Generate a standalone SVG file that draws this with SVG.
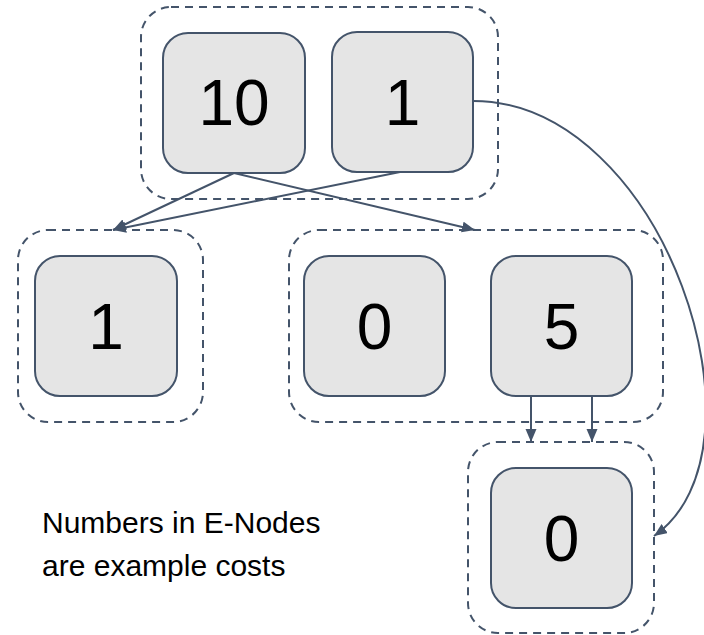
<svg xmlns="http://www.w3.org/2000/svg" width="704" height="635" viewBox="0 0 704 635">
  <style>
    .cls { fill: none; stroke: #44546a; stroke-width: 2; stroke-dasharray: 8 6; }
    .node rect { fill: #e5e5e5; stroke: #44546a; stroke-width: 2; }
    .node text { font-family: "Liberation Sans", Arial, sans-serif; font-size: 64px; fill: #000; text-anchor: middle; }
    .edge { fill: none; stroke: #44546a; stroke-width: 2; marker-end: url(#arrow); }
    .note { font-family: "Liberation Sans", Arial, sans-serif; font-size: 30px; fill: #000; }
  </style>
  <defs>
    <marker id="arrow" markerUnits="userSpaceOnUse" markerWidth="14" markerHeight="12" refX="13" refY="5.5" orient="auto">
      <path d="M0,0 L13,5.5 L0,11 z" fill="#44546a"/>
    </marker>
  </defs>

  <rect width="704" height="635" fill="#fff"/>

  <!-- e-class outlines -->
  <g id="classes">
    <rect id="class-top" class="cls" x="141" y="7" width="357" height="192" rx="30"/>
    <rect id="class-left" class="cls" x="18" y="230" width="185" height="192" rx="30"/>
    <rect id="class-mid" class="cls" x="289" y="230" width="374" height="192" rx="30"/>
    <rect id="class-bottom" class="cls" x="468" y="442" width="186" height="191" rx="30"/>
  </g>

  <!-- e-nodes -->
  <g id="node-top-10" class="node">
    <rect x="163" y="33" width="142" height="140" rx="25"/>
    <text x="234" y="125">10</text>
  </g>
  <g id="node-top-1" class="node">
    <rect x="332" y="32" width="141" height="140" rx="25"/>
    <text x="402.5" y="125">1</text>
  </g>
  <g id="node-left-1" class="node">
    <rect x="35" y="256" width="142" height="140" rx="25"/>
    <text x="106" y="349">1</text>
  </g>
  <g id="node-mid-0" class="node">
    <rect x="304" y="256" width="141" height="140" rx="25"/>
    <text x="374.5" y="349">0</text>
  </g>
  <g id="node-mid-5" class="node">
    <rect x="491" y="256" width="141" height="140" rx="25"/>
    <text x="561.5" y="349">5</text>
  </g>
  <g id="node-bottom-0" class="node">
    <rect x="491" y="468" width="141" height="140" rx="25"/>
    <text x="561.5" y="561">0</text>
  </g>

  <!-- connectors -->
  <g id="edges">
    <line class="edge" x1="234" y1="173" x2="113" y2="230"/>
    <line class="edge" x1="400" y1="172" x2="113" y2="230"/>
    <line class="edge" x1="234" y1="173" x2="475" y2="230"/>
    <line class="edge" x1="531" y1="396" x2="531" y2="442"/>
    <line class="edge" x1="592" y1="396" x2="592" y2="442"/>
    <path class="edge" d="M473,101 C665,101 778,450 654,536"/>
  </g>

  <text class="note" x="42" y="533">Numbers in E-Nodes</text>
  <text class="note" x="42" y="576">are example costs</text>
</svg>
